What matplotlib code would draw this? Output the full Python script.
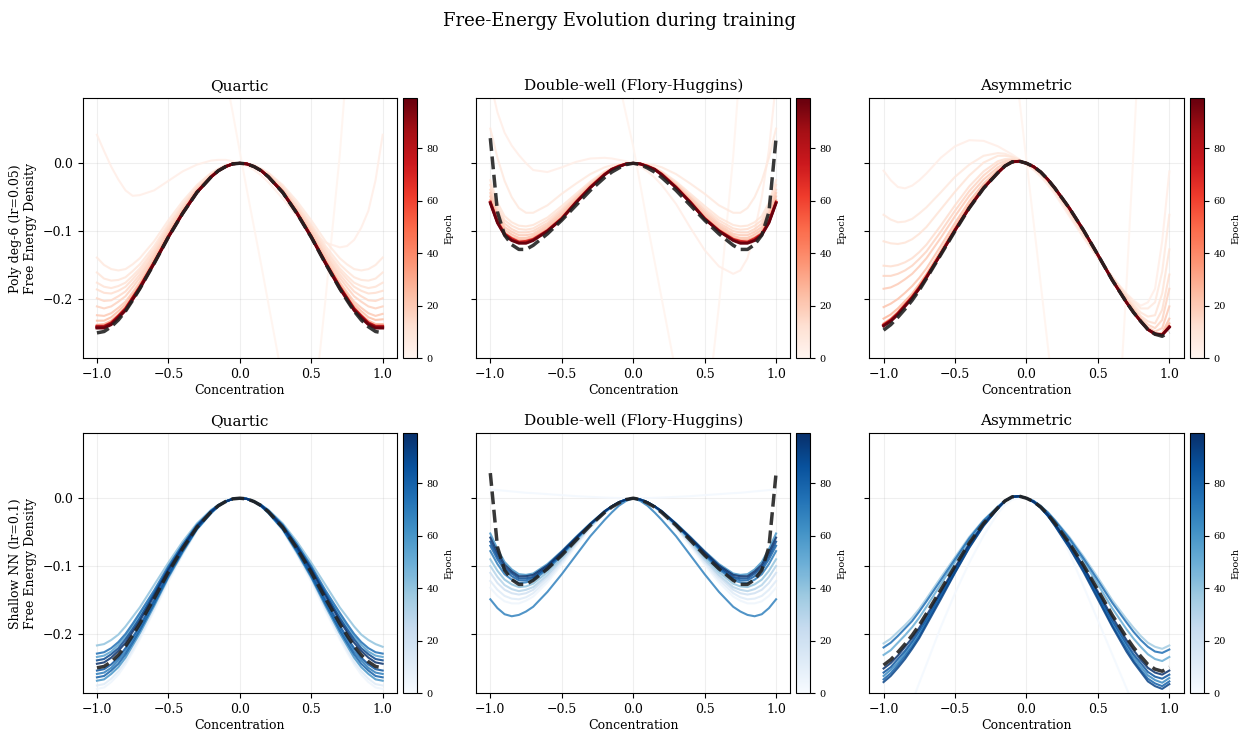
import matplotlib
matplotlib.use("Agg")
import matplotlib.pyplot as plt
from matplotlib.colors import Normalize
from matplotlib.cm import ScalarMappable

# concentration grid the curves were read at (finer where the curves bend most)
conc = [-1.0, -0.95, -0.9, -0.85, -0.8, -0.75, -0.7, -0.6, -0.5, -0.4, -0.3, -0.2, -0.15, -0.1, -0.05, 0.0,
        0.05, 0.1, 0.15, 0.2, 0.3, 0.4, 0.5, 0.6, 0.7, 0.75, 0.8, 0.85, 0.9, 0.95, 1.0]

# ground-truth free energies
true_quartic = [-0.250, -0.248, -0.241, -0.231, -0.218, -0.202, -0.185, -0.148, -0.109, -0.074, -0.043, -0.020, -0.011, -0.005, -0.001, 0.000,
                -0.001, -0.005, -0.011, -0.020, -0.043, -0.074, -0.109, -0.148, -0.185, -0.202, -0.218, -0.231, -0.241, -0.248, -0.250]
true_double = [0.037, -0.072, -0.106, -0.120, -0.127, -0.127, -0.121, -0.104, -0.084, -0.062, -0.040, -0.021, -0.013, -0.007, -0.002, 0.000,
               -0.002, -0.007, -0.013, -0.021, -0.040, -0.062, -0.084, -0.104, -0.121, -0.127, -0.127, -0.120, -0.106, -0.072, 0.037]
true_asym = [-0.246, -0.238, -0.227, -0.215, -0.202, -0.187, -0.170, -0.135, -0.100, -0.066, -0.037, -0.014, -0.004, 0.002, 0.003, 0.000,
             -0.005, -0.013, -0.024, -0.037, -0.066, -0.099, -0.135, -0.172, -0.205, -0.220, -0.233, -0.245, -0.252, -0.255, -0.249]

# ---- poly deg-6, quartic ----
pq_epochs = [1, 4, 7, 9, 11, 13, 15, 17, 20, 23, 27, 70, 85, 92, 99]
pq_01 = [3.0, 2.7, 2.4, 2.15, 1.9, 1.65, 1.4, 1.0, 0.7, 0.45, 0.3, 0.2, 0.165, 0.13, 0.075, 0.017,
         -0.04, -0.095, -0.15, -0.207, -0.32, -0.40, -0.40, -0.20, 0.013, 0.15, 0.30, 0.55, 0.80, 1.10, 1.50]
pq_04 = [0.042, 0.018, -0.005, -0.024, -0.040, -0.048, -0.047, -0.040, -0.026, -0.012, -0.002, 0.004, 0.005, 0.005, 0.003, 0.000,
         -0.004, -0.010, -0.018, -0.028, -0.052, -0.078, -0.100, -0.117, -0.124, -0.122, -0.113, -0.095, -0.070, -0.025, 0.042]
pq_07 = [-0.139, -0.150, -0.156, -0.158, -0.156, -0.149, -0.140, -0.115, -0.084, -0.056, -0.032, -0.014, -0.008, -0.003, -0.001, 0.000,
         -0.001, -0.003, -0.008, -0.014, -0.032, -0.056, -0.084, -0.115, -0.140, -0.149, -0.156, -0.158, -0.156, -0.150, -0.139]
pq_09 = [-0.161, -0.170, -0.173, -0.172, -0.168, -0.159, -0.149, -0.122, -0.089, -0.060, -0.034, -0.015, -0.009, -0.003, -0.001, 0.000,
         -0.001, -0.003, -0.009, -0.015, -0.034, -0.060, -0.089, -0.122, -0.149, -0.159, -0.168, -0.172, -0.173, -0.170, -0.161]
pq_11 = [-0.176, -0.182, -0.184, -0.181, -0.176, -0.166, -0.155, -0.126, -0.092, -0.062, -0.036, -0.016, -0.009, -0.004, -0.001, 0.000,
         -0.001, -0.004, -0.009, -0.016, -0.036, -0.062, -0.092, -0.126, -0.155, -0.166, -0.176, -0.181, -0.184, -0.182, -0.176]
pq_13 = [-0.186, -0.191, -0.192, -0.188, -0.182, -0.171, -0.159, -0.129, -0.094, -0.064, -0.037, -0.017, -0.010, -0.004, -0.001, 0.000,
         -0.001, -0.004, -0.010, -0.017, -0.037, -0.064, -0.094, -0.129, -0.159, -0.171, -0.182, -0.188, -0.192, -0.191, -0.188]
pq_15 = [-0.199, -0.203, -0.202, -0.196, -0.189, -0.177, -0.164, -0.133, -0.097, -0.066, -0.038, -0.017, -0.010, -0.004, -0.001, 0.000,
         -0.001, -0.004, -0.010, -0.017, -0.038, -0.066, -0.097, -0.133, -0.164, -0.177, -0.189, -0.196, -0.202, -0.203, -0.199]
pq_17 = [-0.211, -0.214, -0.211, -0.204, -0.196, -0.183, -0.169, -0.136, -0.100, -0.068, -0.039, -0.018, -0.010, -0.004, -0.001, 0.000,
         -0.001, -0.004, -0.010, -0.018, -0.039, -0.068, -0.100, -0.136, -0.169, -0.183, -0.196, -0.204, -0.211, -0.214, -0.211]
pq_20 = [-0.224, -0.225, -0.221, -0.213, -0.204, -0.190, -0.175, -0.140, -0.103, -0.070, -0.040, -0.019, -0.011, -0.005, -0.001, 0.000,
         -0.001, -0.005, -0.011, -0.019, -0.040, -0.070, -0.103, -0.140, -0.175, -0.190, -0.204, -0.213, -0.221, -0.225, -0.222]
pq_23 = [-0.232, -0.232, -0.227, -0.218, -0.208, -0.193, -0.178, -0.143, -0.105, -0.071, -0.041, -0.019, -0.011, -0.005, -0.001, 0.000,
         -0.001, -0.005, -0.011, -0.019, -0.041, -0.071, -0.105, -0.143, -0.178, -0.193, -0.208, -0.218, -0.227, -0.231, -0.230]
pq_27 = [-0.238, -0.237, -0.232, -0.223, -0.212, -0.197, -0.181, -0.145, -0.107, -0.073, -0.042, -0.020, -0.011, -0.005, -0.001, 0.000,
         -0.001, -0.005, -0.011, -0.020, -0.042, -0.073, -0.107, -0.145, -0.181, -0.197, -0.212, -0.223, -0.232, -0.237, -0.237]
pq_70 = [-0.240, -0.240, -0.235, -0.225, -0.214, -0.198, -0.182, -0.146, -0.108, -0.073, -0.042, -0.020, -0.011, -0.005, -0.001, 0.000,
         -0.001, -0.005, -0.011, -0.020, -0.042, -0.073, -0.108, -0.146, -0.182, -0.198, -0.214, -0.225, -0.235, -0.240, -0.240]
pq_85 = [-0.241, -0.241, -0.236, -0.226, -0.215, -0.199, -0.183, -0.147, -0.108, -0.073, -0.043, -0.020, -0.011, -0.005, -0.001, 0.000,
         -0.001, -0.005, -0.011, -0.020, -0.043, -0.073, -0.108, -0.147, -0.183, -0.199, -0.215, -0.226, -0.236, -0.241, -0.241]
pq_92 = [-0.242, -0.242, -0.237, -0.227, -0.216, -0.200, -0.184, -0.147, -0.109, -0.074, -0.043, -0.020, -0.011, -0.005, -0.001, 0.000,
         -0.001, -0.005, -0.011, -0.020, -0.043, -0.074, -0.109, -0.147, -0.184, -0.200, -0.216, -0.227, -0.237, -0.242, -0.242]
pq_99 = [-0.243, -0.243, -0.238, -0.228, -0.217, -0.201, -0.185, -0.148, -0.109, -0.074, -0.043, -0.020, -0.011, -0.005, -0.001, 0.000,
         -0.001, -0.005, -0.011, -0.020, -0.043, -0.074, -0.109, -0.148, -0.185, -0.201, -0.217, -0.228, -0.238, -0.243, -0.243]

# ---- poly deg-6, double-well ----
pd_epochs = [1, 4, 7, 10, 13, 16, 19, 22, 26, 70, 88, 99]
pd_01 = [3.0, 2.7, 2.4, 2.15, 1.9, 1.65, 1.4, 1.0, 0.7, 0.46, 0.31, 0.21, 0.165, 0.12, 0.072, 0.025,
         -0.032, -0.09, -0.145, -0.20, -0.31, -0.39, -0.40, -0.21, 0.01, 0.15, 0.30, 0.55, 0.80, 1.10, 1.50]
pd_04 = [0.120, 0.075, 0.045, 0.026, 0.012, 0.000, -0.010, -0.013, -0.006, 0.002, 0.007, 0.008, 0.007, 0.005, 0.003, 0.000,
         -0.005, -0.012, -0.021, -0.032, -0.060, -0.095, -0.128, -0.152, -0.163, -0.158, -0.140, -0.100, -0.050, 0.020, 0.120]
pd_07 = [0.051, 0.008, -0.026, -0.050, -0.066, -0.073, -0.073, -0.062, -0.045, -0.030, -0.016, -0.006, -0.003, -0.001, 0.000, 0.000,
         0.000, -0.001, -0.003, -0.006, -0.016, -0.030, -0.045, -0.062, -0.073, -0.073, -0.066, -0.050, -0.026, 0.008, 0.051]
pd_10 = [-0.025, -0.058, -0.078, -0.087, -0.092, -0.093, -0.091, -0.080, -0.063, -0.045, -0.027, -0.012, -0.007, -0.003, -0.001, 0.000,
         -0.001, -0.003, -0.007, -0.012, -0.027, -0.045, -0.063, -0.080, -0.091, -0.093, -0.092, -0.087, -0.078, -0.058, -0.025]
pd_13 = [-0.032, -0.064, -0.084, -0.092, -0.097, -0.098, -0.096, -0.084, -0.067, -0.048, -0.029, -0.013, -0.007, -0.003, -0.001, 0.000,
         -0.001, -0.003, -0.007, -0.013, -0.029, -0.048, -0.067, -0.084, -0.096, -0.098, -0.097, -0.092, -0.084, -0.064, -0.032]
pd_16 = [-0.039, -0.070, -0.089, -0.097, -0.102, -0.102, -0.100, -0.088, -0.070, -0.050, -0.031, -0.014, -0.008, -0.004, -0.001, 0.000,
         -0.001, -0.004, -0.008, -0.014, -0.031, -0.050, -0.070, -0.088, -0.100, -0.102, -0.102, -0.097, -0.089, -0.070, -0.039]
pd_19 = [-0.044, -0.075, -0.094, -0.101, -0.106, -0.106, -0.104, -0.091, -0.073, -0.052, -0.032, -0.015, -0.008, -0.004, -0.001, 0.000,
         -0.001, -0.004, -0.008, -0.015, -0.032, -0.052, -0.073, -0.091, -0.104, -0.106, -0.106, -0.101, -0.094, -0.075, -0.044]
pd_22 = [-0.049, -0.079, -0.098, -0.105, -0.110, -0.110, -0.107, -0.094, -0.076, -0.054, -0.033, -0.015, -0.008, -0.004, -0.001, 0.000,
         -0.001, -0.004, -0.008, -0.015, -0.033, -0.054, -0.076, -0.094, -0.107, -0.110, -0.110, -0.105, -0.098, -0.079, -0.049]
pd_26 = [-0.054, -0.083, -0.102, -0.109, -0.113, -0.113, -0.110, -0.097, -0.079, -0.056, -0.034, -0.016, -0.009, -0.004, -0.001, 0.000,
         -0.001, -0.004, -0.009, -0.016, -0.034, -0.056, -0.079, -0.097, -0.110, -0.113, -0.113, -0.109, -0.102, -0.083, -0.054]
pd_70 = [-0.057, -0.086, -0.104, -0.111, -0.116, -0.115, -0.112, -0.099, -0.081, -0.057, -0.035, -0.016, -0.009, -0.004, -0.001, 0.000,
         -0.001, -0.004, -0.009, -0.016, -0.035, -0.057, -0.081, -0.099, -0.112, -0.115, -0.116, -0.111, -0.104, -0.086, -0.057]
pd_88 = [-0.058, -0.087, -0.105, -0.113, -0.117, -0.117, -0.113, -0.100, -0.082, -0.058, -0.036, -0.017, -0.009, -0.005, -0.001, 0.000,
         -0.001, -0.005, -0.009, -0.017, -0.036, -0.058, -0.082, -0.100, -0.113, -0.117, -0.117, -0.113, -0.105, -0.087, -0.058]
pd_99 = [-0.059, -0.088, -0.106, -0.114, -0.118, -0.118, -0.114, -0.100, -0.082, -0.058, -0.036, -0.017, -0.009, -0.005, -0.001, 0.000,
         -0.001, -0.005, -0.009, -0.017, -0.036, -0.058, -0.082, -0.100, -0.114, -0.118, -0.118, -0.114, -0.106, -0.088, -0.059]

# ---- poly deg-6, asymmetric ----
pa_epochs = [1, 4, 7, 10, 13, 16, 19, 22, 26, 32, 70, 88, 99]
pa_01 = [4.0, 3.6, 3.2, 2.85, 2.5, 2.2, 1.9, 1.3, 0.9, 0.6, 0.4, 0.27, 0.225, 0.18, 0.095, 0.004,
         -0.087, -0.178, -0.27, -0.36, -0.50, -0.60, -0.62, -0.55, -0.18, 0.02, 0.23, 0.50, 0.80, 1.20, 1.60]
pa_04 = [-0.011, -0.025, -0.035, -0.037, -0.033, -0.025, -0.015, 0.008, 0.025, 0.034, 0.033, 0.025, 0.019, 0.013, 0.006, -0.002,
         -0.010, -0.020, -0.032, -0.046, -0.078, -0.110, -0.140, -0.168, -0.192, -0.202, -0.210, -0.205, -0.185, -0.115, -0.012]
pa_07 = [-0.076, -0.083, -0.087, -0.086, -0.082, -0.074, -0.065, -0.043, -0.020, -0.002, 0.011, 0.015, 0.014, 0.010, 0.005, -0.002,
         -0.009, -0.017, -0.029, -0.043, -0.075, -0.108, -0.139, -0.168, -0.193, -0.204, -0.214, -0.214, -0.205, -0.160, -0.076]
pa_10 = [-0.115, -0.118, -0.119, -0.117, -0.112, -0.104, -0.094, -0.068, -0.042, -0.018, 0.001, 0.011, 0.011, 0.009, 0.005, -0.001,
         -0.008, -0.016, -0.027, -0.041, -0.072, -0.105, -0.137, -0.167, -0.195, -0.208, -0.220, -0.226, -0.224, -0.192, -0.127]
pa_13 = [-0.151, -0.152, -0.150, -0.146, -0.140, -0.131, -0.120, -0.092, -0.062, -0.034, -0.012, 0.003, 0.006, 0.006, 0.004, 0.000,
         -0.007, -0.015, -0.026, -0.040, -0.070, -0.103, -0.136, -0.168, -0.197, -0.211, -0.225, -0.233, -0.236, -0.216, -0.164]
pa_16 = [-0.166, -0.166, -0.163, -0.158, -0.151, -0.141, -0.130, -0.101, -0.070, -0.041, -0.018, -0.001, 0.003, 0.005, 0.004, 0.000,
         -0.006, -0.014, -0.025, -0.039, -0.069, -0.102, -0.136, -0.169, -0.199, -0.214, -0.228, -0.238, -0.243, -0.231, -0.185]
pa_19 = [-0.185, -0.183, -0.178, -0.171, -0.163, -0.152, -0.140, -0.110, -0.078, -0.048, -0.024, -0.006, 0.000, 0.003, 0.003, 0.000,
         -0.006, -0.014, -0.025, -0.038, -0.068, -0.101, -0.136, -0.170, -0.201, -0.216, -0.230, -0.242, -0.248, -0.243, -0.211]
pa_22 = [-0.212, -0.207, -0.200, -0.191, -0.181, -0.169, -0.155, -0.122, -0.088, -0.056, -0.030, -0.010, -0.003, 0.002, 0.003, 0.000,
         -0.005, -0.013, -0.024, -0.037, -0.067, -0.100, -0.136, -0.171, -0.203, -0.218, -0.232, -0.244, -0.251, -0.250, -0.229]
pa_26 = [-0.229, -0.223, -0.214, -0.203, -0.192, -0.178, -0.163, -0.129, -0.094, -0.061, -0.034, -0.012, -0.004, 0.001, 0.003, 0.000,
         -0.005, -0.013, -0.024, -0.037, -0.066, -0.100, -0.135, -0.172, -0.204, -0.219, -0.233, -0.245, -0.252, -0.253, -0.236]
pa_32 = [-0.236, -0.229, -0.219, -0.207, -0.196, -0.181, -0.166, -0.132, -0.097, -0.064, -0.036, -0.013, -0.004, 0.002, 0.003, 0.000,
         -0.005, -0.013, -0.024, -0.037, -0.066, -0.099, -0.135, -0.172, -0.205, -0.220, -0.233, -0.245, -0.252, -0.253, -0.240]
pa_70 = [-0.238, -0.231, -0.221, -0.209, -0.197, -0.183, -0.167, -0.133, -0.098, -0.065, -0.036, -0.014, -0.004, 0.002, 0.003, 0.000,
         -0.005, -0.013, -0.024, -0.037, -0.066, -0.099, -0.135, -0.172, -0.205, -0.220, -0.233, -0.245, -0.252, -0.253, -0.241]
pa_88 = [-0.239, -0.232, -0.222, -0.210, -0.198, -0.184, -0.168, -0.134, -0.099, -0.065, -0.036, -0.014, -0.004, 0.002, 0.003, 0.000,
         -0.005, -0.013, -0.024, -0.037, -0.066, -0.099, -0.135, -0.172, -0.205, -0.220, -0.233, -0.245, -0.252, -0.253, -0.241]
pa_99 = [-0.240, -0.233, -0.223, -0.211, -0.199, -0.185, -0.169, -0.134, -0.099, -0.066, -0.037, -0.014, -0.004, 0.002, 0.003, 0.000,
         -0.005, -0.013, -0.024, -0.037, -0.066, -0.099, -0.135, -0.172, -0.205, -0.220, -0.233, -0.245, -0.251, -0.253, -0.242]

# ---- shallow NN, quartic ----
nq_epochs = [5, 12, 40, 55, 60, 70, 75, 80, 85, 90, 99]
nq_05 = [-0.281, -0.279, -0.271, -0.260, -0.245, -0.227, -0.208, -0.166, -0.123, -0.083, -0.048, -0.022, -0.012, -0.006, -0.001, 0.000,
         -0.001, -0.006, -0.012, -0.022, -0.048, -0.083, -0.123, -0.166, -0.208, -0.227, -0.245, -0.260, -0.271, -0.279, -0.281]
nq_12 = [-0.276, -0.274, -0.266, -0.255, -0.241, -0.223, -0.204, -0.163, -0.120, -0.082, -0.047, -0.022, -0.012, -0.006, -0.001, 0.000,
         -0.001, -0.006, -0.012, -0.022, -0.047, -0.082, -0.120, -0.163, -0.204, -0.223, -0.241, -0.255, -0.266, -0.274, -0.276]
nq_40 = [-0.217, -0.215, -0.209, -0.201, -0.189, -0.175, -0.161, -0.128, -0.095, -0.064, -0.037, -0.017, -0.010, -0.004, -0.001, 0.000,
         -0.001, -0.004, -0.010, -0.017, -0.037, -0.064, -0.095, -0.128, -0.161, -0.175, -0.189, -0.201, -0.209, -0.215, -0.219]
nq_55 = [-0.234, -0.232, -0.226, -0.216, -0.204, -0.189, -0.173, -0.139, -0.102, -0.069, -0.040, -0.019, -0.010, -0.005, -0.001, 0.000,
         -0.001, -0.005, -0.010, -0.019, -0.040, -0.069, -0.102, -0.139, -0.173, -0.189, -0.204, -0.216, -0.226, -0.232, -0.234]
nq_60 = [-0.269, -0.267, -0.259, -0.249, -0.235, -0.217, -0.199, -0.159, -0.117, -0.080, -0.046, -0.022, -0.012, -0.005, -0.001, 0.000,
         -0.001, -0.005, -0.012, -0.022, -0.046, -0.080, -0.117, -0.159, -0.199, -0.217, -0.235, -0.249, -0.259, -0.267, -0.269]
nq_70 = [-0.259, -0.257, -0.250, -0.239, -0.226, -0.209, -0.192, -0.153, -0.113, -0.077, -0.045, -0.021, -0.011, -0.005, -0.001, 0.000,
         -0.001, -0.005, -0.011, -0.021, -0.045, -0.077, -0.113, -0.153, -0.192, -0.209, -0.226, -0.239, -0.250, -0.257, -0.259]
nq_75 = [-0.229, -0.227, -0.221, -0.212, -0.200, -0.185, -0.169, -0.136, -0.100, -0.068, -0.039, -0.018, -0.010, -0.005, -0.001, 0.000,
         -0.001, -0.005, -0.010, -0.018, -0.039, -0.068, -0.100, -0.136, -0.169, -0.185, -0.200, -0.212, -0.221, -0.227, -0.229]
nq_80 = [-0.264, -0.262, -0.254, -0.244, -0.230, -0.213, -0.195, -0.156, -0.115, -0.078, -0.045, -0.021, -0.012, -0.005, -0.001, 0.000,
         -0.001, -0.005, -0.012, -0.021, -0.045, -0.078, -0.115, -0.156, -0.195, -0.213, -0.230, -0.244, -0.254, -0.262, -0.264]
nq_85 = [-0.254, -0.252, -0.245, -0.235, -0.221, -0.205, -0.188, -0.150, -0.111, -0.075, -0.044, -0.020, -0.011, -0.005, -0.001, 0.000,
         -0.001, -0.005, -0.011, -0.020, -0.044, -0.075, -0.111, -0.150, -0.188, -0.205, -0.221, -0.235, -0.245, -0.252, -0.254]
nq_90 = [-0.239, -0.237, -0.230, -0.221, -0.208, -0.193, -0.177, -0.141, -0.104, -0.071, -0.041, -0.019, -0.011, -0.005, -0.001, 0.000,
         -0.001, -0.005, -0.011, -0.019, -0.041, -0.071, -0.104, -0.141, -0.177, -0.193, -0.208, -0.221, -0.230, -0.237, -0.239]
nq_99 = [-0.244, -0.242, -0.235, -0.225, -0.213, -0.197, -0.181, -0.144, -0.106, -0.072, -0.042, -0.020, -0.011, -0.005, -0.001, 0.000,
         -0.001, -0.005, -0.011, -0.020, -0.042, -0.072, -0.106, -0.144, -0.181, -0.197, -0.213, -0.225, -0.235, -0.242, -0.244]

# ---- shallow NN, double-well ----
nd_epochs = [2, 5, 12, 20, 30, 40, 60, 68, 70, 80, 90, 99]
nd_02 = [0.013, 0.012, 0.011, 0.010, 0.009, 0.008, 0.0075, 0.006, 0.0045, 0.003, 0.002, 0.001, 0.0006, 0.0003, 0.0001, 0.000,
         0.0001, 0.0003, 0.0006, 0.001, 0.002, 0.003, 0.0045, 0.006, 0.0075, 0.008, 0.009, 0.010, 0.011, 0.012, 0.013]
nd_05 = [-0.132, -0.144, -0.152, -0.155, -0.155, -0.151, -0.145, -0.124, -0.098, -0.070, -0.044, -0.022, -0.013, -0.006, -0.002, 0.000,
         -0.002, -0.006, -0.013, -0.022, -0.044, -0.070, -0.098, -0.124, -0.145, -0.151, -0.155, -0.155, -0.152, -0.144, -0.132]
nd_12 = [-0.122, -0.135, -0.144, -0.148, -0.149, -0.146, -0.140, -0.120, -0.095, -0.068, -0.043, -0.022, -0.013, -0.006, -0.002, 0.000,
         -0.002, -0.006, -0.013, -0.022, -0.043, -0.068, -0.095, -0.120, -0.140, -0.146, -0.149, -0.148, -0.144, -0.135, -0.122]
nd_20 = [-0.110, -0.125, -0.135, -0.140, -0.142, -0.140, -0.135, -0.116, -0.092, -0.066, -0.042, -0.022, -0.013, -0.006, -0.002, 0.000,
         -0.002, -0.006, -0.013, -0.022, -0.042, -0.066, -0.092, -0.116, -0.135, -0.140, -0.142, -0.140, -0.135, -0.125, -0.110]
nd_30 = [-0.100, -0.116, -0.128, -0.134, -0.137, -0.135, -0.131, -0.113, -0.090, -0.065, -0.041, -0.021, -0.013, -0.006, -0.002, 0.000,
         -0.002, -0.006, -0.013, -0.021, -0.041, -0.065, -0.090, -0.113, -0.131, -0.135, -0.137, -0.134, -0.128, -0.116, -0.100]
nd_40 = [-0.090, -0.107, -0.120, -0.127, -0.131, -0.130, -0.126, -0.109, -0.087, -0.063, -0.040, -0.021, -0.012, -0.006, -0.002, 0.000,
         -0.002, -0.006, -0.012, -0.021, -0.040, -0.063, -0.087, -0.109, -0.126, -0.130, -0.131, -0.127, -0.120, -0.107, -0.090]
nd_60 = [-0.052, -0.075, -0.094, -0.105, -0.112, -0.113, -0.111, -0.097, -0.078, -0.057, -0.037, -0.019, -0.012, -0.006, -0.002, 0.000,
         -0.002, -0.006, -0.012, -0.019, -0.037, -0.057, -0.078, -0.097, -0.111, -0.113, -0.112, -0.105, -0.094, -0.075, -0.052]
nd_68 = [-0.149, -0.162, -0.171, -0.174, -0.172, -0.167, -0.160, -0.138, -0.112, -0.084, -0.056, -0.032, -0.021, -0.011, -0.004, 0.000,
         -0.004, -0.011, -0.021, -0.032, -0.056, -0.084, -0.112, -0.138, -0.160, -0.167, -0.172, -0.174, -0.171, -0.162, -0.149]
nd_70 = [-0.078, -0.097, -0.112, -0.120, -0.125, -0.124, -0.121, -0.105, -0.084, -0.061, -0.039, -0.020, -0.012, -0.006, -0.002, 0.000,
         -0.002, -0.006, -0.012, -0.020, -0.039, -0.061, -0.084, -0.105, -0.121, -0.124, -0.125, -0.120, -0.112, -0.097, -0.078]
nd_80 = [-0.070, -0.090, -0.106, -0.115, -0.121, -0.121, -0.118, -0.103, -0.082, -0.060, -0.039, -0.020, -0.012, -0.006, -0.002, 0.000,
         -0.002, -0.006, -0.012, -0.020, -0.039, -0.060, -0.082, -0.103, -0.118, -0.121, -0.121, -0.115, -0.106, -0.090, -0.070]
nd_90 = [-0.064, -0.085, -0.102, -0.111, -0.118, -0.118, -0.116, -0.101, -0.081, -0.059, -0.038, -0.020, -0.012, -0.006, -0.002, 0.000,
         -0.002, -0.006, -0.012, -0.020, -0.038, -0.059, -0.081, -0.101, -0.116, -0.118, -0.118, -0.111, -0.102, -0.085, -0.064]
nd_99 = [-0.058, -0.080, -0.098, -0.108, -0.115, -0.115, -0.113, -0.099, -0.079, -0.058, -0.038, -0.019, -0.012, -0.006, -0.002, 0.000,
         -0.002, -0.006, -0.012, -0.019, -0.038, -0.058, -0.079, -0.099, -0.113, -0.115, -0.115, -0.108, -0.098, -0.080, -0.058]

# ---- shallow NN, asymmetric ----
na_epochs = [2, 35, 50, 65, 75, 80, 85, 92, 99]
na_02 = [-0.42, -0.39, -0.36, -0.33, -0.30, -0.272, -0.245, -0.19, -0.14, -0.095, -0.055, -0.022, -0.010, -0.002, 0.000, 0.000,
         -0.004, -0.010, -0.022, -0.040, -0.080, -0.130, -0.180, -0.230, -0.280, -0.305, -0.330, -0.355, -0.380, -0.400, -0.420]
na_35 = [-0.214, -0.207, -0.197, -0.187, -0.176, -0.163, -0.148, -0.117, -0.087, -0.057, -0.032, -0.012, -0.003, 0.002, 0.003, 0.000,
         -0.004, -0.011, -0.021, -0.032, -0.057, -0.086, -0.117, -0.150, -0.178, -0.191, -0.203, -0.213, -0.219, -0.222, -0.217]
na_50 = [-0.231, -0.224, -0.213, -0.202, -0.190, -0.176, -0.160, -0.127, -0.094, -0.062, -0.035, -0.013, -0.004, 0.002, 0.003, 0.000,
         -0.005, -0.012, -0.023, -0.035, -0.062, -0.093, -0.127, -0.162, -0.193, -0.207, -0.219, -0.230, -0.237, -0.240, -0.234]
na_65 = [-0.262, -0.253, -0.242, -0.229, -0.215, -0.199, -0.181, -0.144, -0.107, -0.070, -0.039, -0.015, -0.004, 0.002, 0.003, 0.000,
         -0.005, -0.014, -0.026, -0.039, -0.070, -0.105, -0.144, -0.183, -0.218, -0.234, -0.248, -0.261, -0.268, -0.272, -0.265]
na_75 = [-0.220, -0.213, -0.203, -0.192, -0.181, -0.167, -0.152, -0.121, -0.090, -0.059, -0.033, -0.013, -0.004, 0.002, 0.003, 0.000,
         -0.004, -0.012, -0.021, -0.033, -0.059, -0.089, -0.121, -0.154, -0.183, -0.197, -0.209, -0.219, -0.226, -0.228, -0.223]
na_80 = [-0.267, -0.258, -0.246, -0.233, -0.219, -0.203, -0.184, -0.146, -0.109, -0.072, -0.040, -0.015, -0.004, 0.002, 0.003, 0.000,
         -0.005, -0.014, -0.026, -0.040, -0.072, -0.107, -0.146, -0.187, -0.222, -0.239, -0.253, -0.266, -0.273, -0.277, -0.270]
na_85 = [-0.257, -0.249, -0.237, -0.225, -0.211, -0.195, -0.178, -0.141, -0.105, -0.069, -0.039, -0.015, -0.004, 0.002, 0.003, 0.000,
         -0.005, -0.014, -0.025, -0.039, -0.069, -0.103, -0.141, -0.180, -0.214, -0.230, -0.243, -0.256, -0.263, -0.266, -0.260]
na_92 = [-0.271, -0.262, -0.250, -0.237, -0.222, -0.206, -0.187, -0.149, -0.110, -0.073, -0.041, -0.015, -0.004, 0.002, 0.003, 0.000,
         -0.006, -0.014, -0.026, -0.041, -0.073, -0.109, -0.149, -0.189, -0.226, -0.242, -0.256, -0.270, -0.277, -0.281, -0.274]
na_99 = [-0.251, -0.243, -0.232, -0.219, -0.206, -0.191, -0.173, -0.138, -0.102, -0.067, -0.038, -0.014, -0.004, 0.002, 0.003, 0.000,
         -0.005, -0.013, -0.024, -0.038, -0.067, -0.101, -0.138, -0.175, -0.209, -0.224, -0.238, -0.250, -0.257, -0.260, -0.254]

row_labels = ["Poly deg-6 (lr=0.05)\nFree Energy Density",
              "Shallow NN (lr=0.1)\nFree Energy Density"]
col_titles = ["Quartic", "Double-well (Flory-Huggins)", "Asymmetric"]
n_epochs = 99

panels = [
    (0, 0, "Reds", true_quartic, pq_epochs,
     [pq_01, pq_04, pq_07, pq_09, pq_11, pq_13, pq_15, pq_17, pq_20, pq_23, pq_27, pq_70, pq_85, pq_92, pq_99]),
    (0, 1, "Reds", true_double, pd_epochs,
     [pd_01, pd_04, pd_07, pd_10, pd_13, pd_16, pd_19, pd_22, pd_26, pd_70, pd_88, pd_99]),
    (0, 2, "Reds", true_asym, pa_epochs,
     [pa_01, pa_04, pa_07, pa_10, pa_13, pa_16, pa_19, pa_22, pa_26, pa_32, pa_70, pa_88, pa_99]),
    (1, 0, "Blues", true_quartic, nq_epochs,
     [nq_05, nq_12, nq_40, nq_55, nq_60, nq_70, nq_75, nq_80, nq_85, nq_90, nq_99]),
    (1, 1, "Blues", true_double, nd_epochs,
     [nd_02, nd_05, nd_12, nd_20, nd_30, nd_40, nd_60, nd_68, nd_70, nd_80, nd_90, nd_99]),
    (1, 2, "Blues", true_asym, na_epochs,
     [na_02, na_35, na_50, na_65, na_75, na_80, na_85, na_92, na_99]),
]

plt.rcParams.update({"font.family": "serif"})

fig = plt.figure(figsize=(12.39, 7.32), dpi=100)
fig.suptitle("Free-Energy Evolution during training", fontsize=13, y=0.983)

ax_left = [0.0667, 0.3842, 0.7016]
cb_left = [0.3253, 0.6425, 0.9605]
row_bottom = [0.5105, 0.0529]
ax_w, ax_h, cb_w = 0.2537, 0.355, 0.0111

norm = Normalize(vmin=0, vmax=n_epochs)

for row, col, cmap_name, truth, epochs, curves in panels:
    ax = fig.add_axes([ax_left[col], row_bottom[row], ax_w, ax_h])
    cax = fig.add_axes([cb_left[col], row_bottom[row], cb_w, ax_h])
    cmap = plt.get_cmap(cmap_name)

    for ep, vals in zip(epochs, curves):
        # the converged poly fits pile up into a thick dark band
        late = row == 0 and ep >= 60
        ax.plot(conc, vals, color=cmap(norm(ep)), lw=2.0 if late else 1.5,
                alpha=0.95 if late else 0.85)
    ax.plot(conc, truth, "--", color="#222222", lw=2.5, alpha=0.9, zorder=5)

    ax.set_xlim(-1.1, 1.1)
    ax.set_ylim(-0.2875, 0.0955)
    ax.set_xticks([-1.0, -0.5, 0.0, 0.5, 1.0])
    ax.set_yticks([-0.2, -0.1, 0.0])
    ax.grid(True, alpha=0.2)
    ax.tick_params(labelsize=9)
    ax.set_title(col_titles[col], fontsize=11)
    ax.set_xlabel("Concentration", fontsize=9, labelpad=2)
    if col == 0:
        ax.set_ylabel(row_labels[row], fontsize=9)
    else:
        ax.tick_params(labelleft=False)

    cb = fig.colorbar(ScalarMappable(norm=norm, cmap=cmap), cax=cax)
    cb.set_label("Epoch", fontsize=7)
    cb.ax.tick_params(labelsize=7)

fig.savefig("out.png", dpi=100)
